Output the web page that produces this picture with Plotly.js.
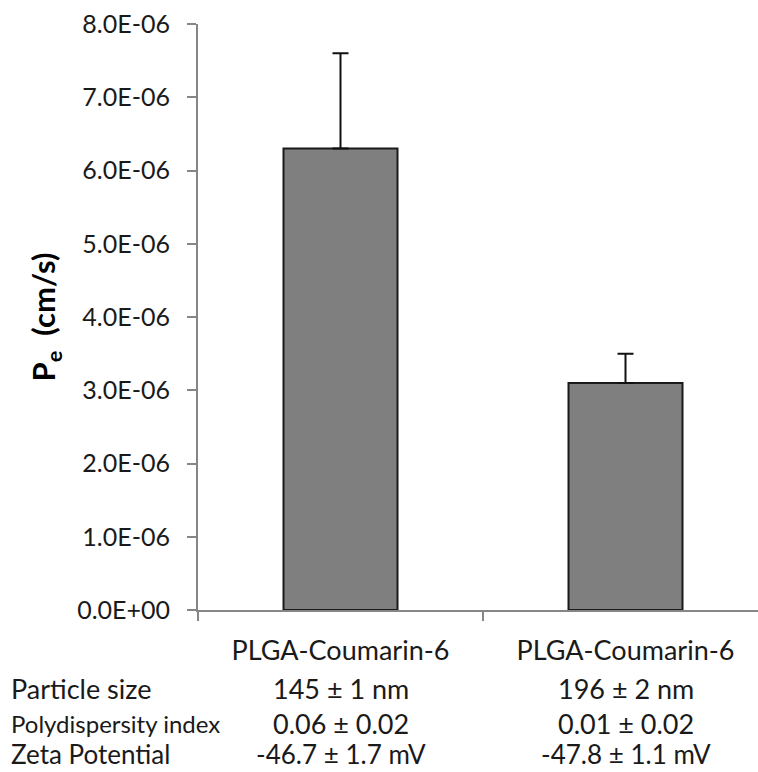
<!DOCTYPE html>
<html>
<head>
<meta charset="utf-8">
<script src="https://cdn.plot.ly/plotly-3.0.1.min.js"></script>
<style>html,body{margin:0;padding:0;background:#fff;}#chart{width:758px;height:772px;}</style>
</head>
<body>
<div id="chart"></div>
<script>
// ---- data ----
var categories = ["PLGA-Coumarin-6 (A)", "PLGA-Coumarin-6 (B)"];
var categoryLabels = ["PLGA-Coumarin-6", "PLGA-Coumarin-6"];
var permeability = [6.3e-6, 3.1e-6];
var permeabilityErrPlus = [1.3e-6, 0.4e-6];
var permeabilityErrMinus = [0, 0];
var yTickValues = [0, 1e-6, 2e-6, 3e-6, 4e-6, 5e-6, 6e-6, 7e-6, 8e-6];
var yTickLabels = ["0.0E+00", "1.0E-06", "2.0E-06", "3.0E-06", "4.0E-06", "5.0E-06", "6.0E-06", "7.0E-06", "8.0E-06"];
var rowLabels = ["Particle size", "Polydispersity index", "Zeta Potential"];
var particleSize = ["145 \u00b1 1 nm", "196 \u00b1 2 nm"];
var polydispersity = ["0.06 \u00b1 0.02", "0.01 \u00b1 0.02"];
var zetaPotential = ["-46.7 \u00b1 1.7 mV", "-47.8 \u00b1 1.1 mV"];

// ---- layout constants ----
var W = 758, H = 772;
var mL = 198, mR = 0, mT = 24, mB = 162;
var plotW = W - mL - mR;
var catPx = 285; // pixel width of one category
var xEnd = -0.5 + plotW / catPx;
var fontFam = "Lato, 'Open Sans', sans-serif";
var txtColor = "#1a1a1a";
var axisColor = "#868686";

var rows = [particleSize, polydispersity, zetaPotential];
var rowShift = [-78, -113, -144];
var rowLabelFont = [27, 24, 26];
var rowValueFont = [27, 27, 26];

var annotations = [];
rows.forEach(function (vals, r) {
  annotations.push({
    xref: "paper", yref: "y", x: (9 - mL) / plotW, y: 0,
    xanchor: "left", yanchor: "middle", yshift: rowShift[r],
    text: rowLabels[r], showarrow: false,
    font: {family: fontFam, size: rowLabelFont[r], color: txtColor}
  });
  vals.forEach(function (v, i) {
    annotations.push({
      xref: "x", yref: "y", x: categories[i], y: 0,
      xanchor: "center", yanchor: "middle", yshift: rowShift[r],
      text: v, showarrow: false,
      font: {family: fontFam, size: rowValueFont[r], color: txtColor}
    });
  });
});

var trace = {
  type: "bar",
  x: categories,
  y: permeability,
  marker: {color: "#7f7f7f", line: {color: "#1a1a1a", width: 2}},
  error_y: {
    type: "data", symmetric: false,
    array: permeabilityErrPlus, arrayminus: permeabilityErrMinus,
    color: "#111111", thickness: 2, width: 8
  },
  hoverinfo: "skip"
};

var layout = {
  width: W, height: H,
  margin: {l: mL, r: mR, t: mT, b: mB, pad: 0},
  paper_bgcolor: "#ffffff", plot_bgcolor: "#ffffff",
  showlegend: false,
  bargap: 0.6,
  font: {family: fontFam, color: txtColor},
  xaxis: {
    type: "category",
    range: [-0.5, xEnd],
    tickmode: "array", tickvals: categories, ticktext: categoryLabels,
    tickson: "boundaries",
    ticks: "outside", ticklen: 9, tickwidth: 2, tickcolor: axisColor,
    ticklabelstandoff: 16,
    tickfont: {family: fontFam, size: 27, color: txtColor},
    showline: true, linecolor: axisColor, linewidth: 2,
    showgrid: false, zeroline: false, fixedrange: true
  },
  yaxis: {
    range: [0, 8e-6],
    tickmode: "array", tickvals: yTickValues, ticktext: yTickLabels,
    ticks: "outside", ticklen: 9, tickwidth: 2, tickcolor: axisColor,
    ticklabelstandoff: 12,
    tickfont: {family: fontFam, size: 25, color: txtColor},
    showline: true, linecolor: axisColor, linewidth: 2,
    showgrid: false, zeroline: false, fixedrange: true,
    title: {
      text: "<b>P<sub>e</sub>&nbsp; (cm/s)</b>",
      font: {family: fontFam, size: 31, color: "#000000"},
      standoff: 12
    }
  },
  annotations: annotations
};

Plotly.newPlot("chart", [trace], layout, {displayModeBar: false, staticPlot: true});
</script>
</body>
</html>
